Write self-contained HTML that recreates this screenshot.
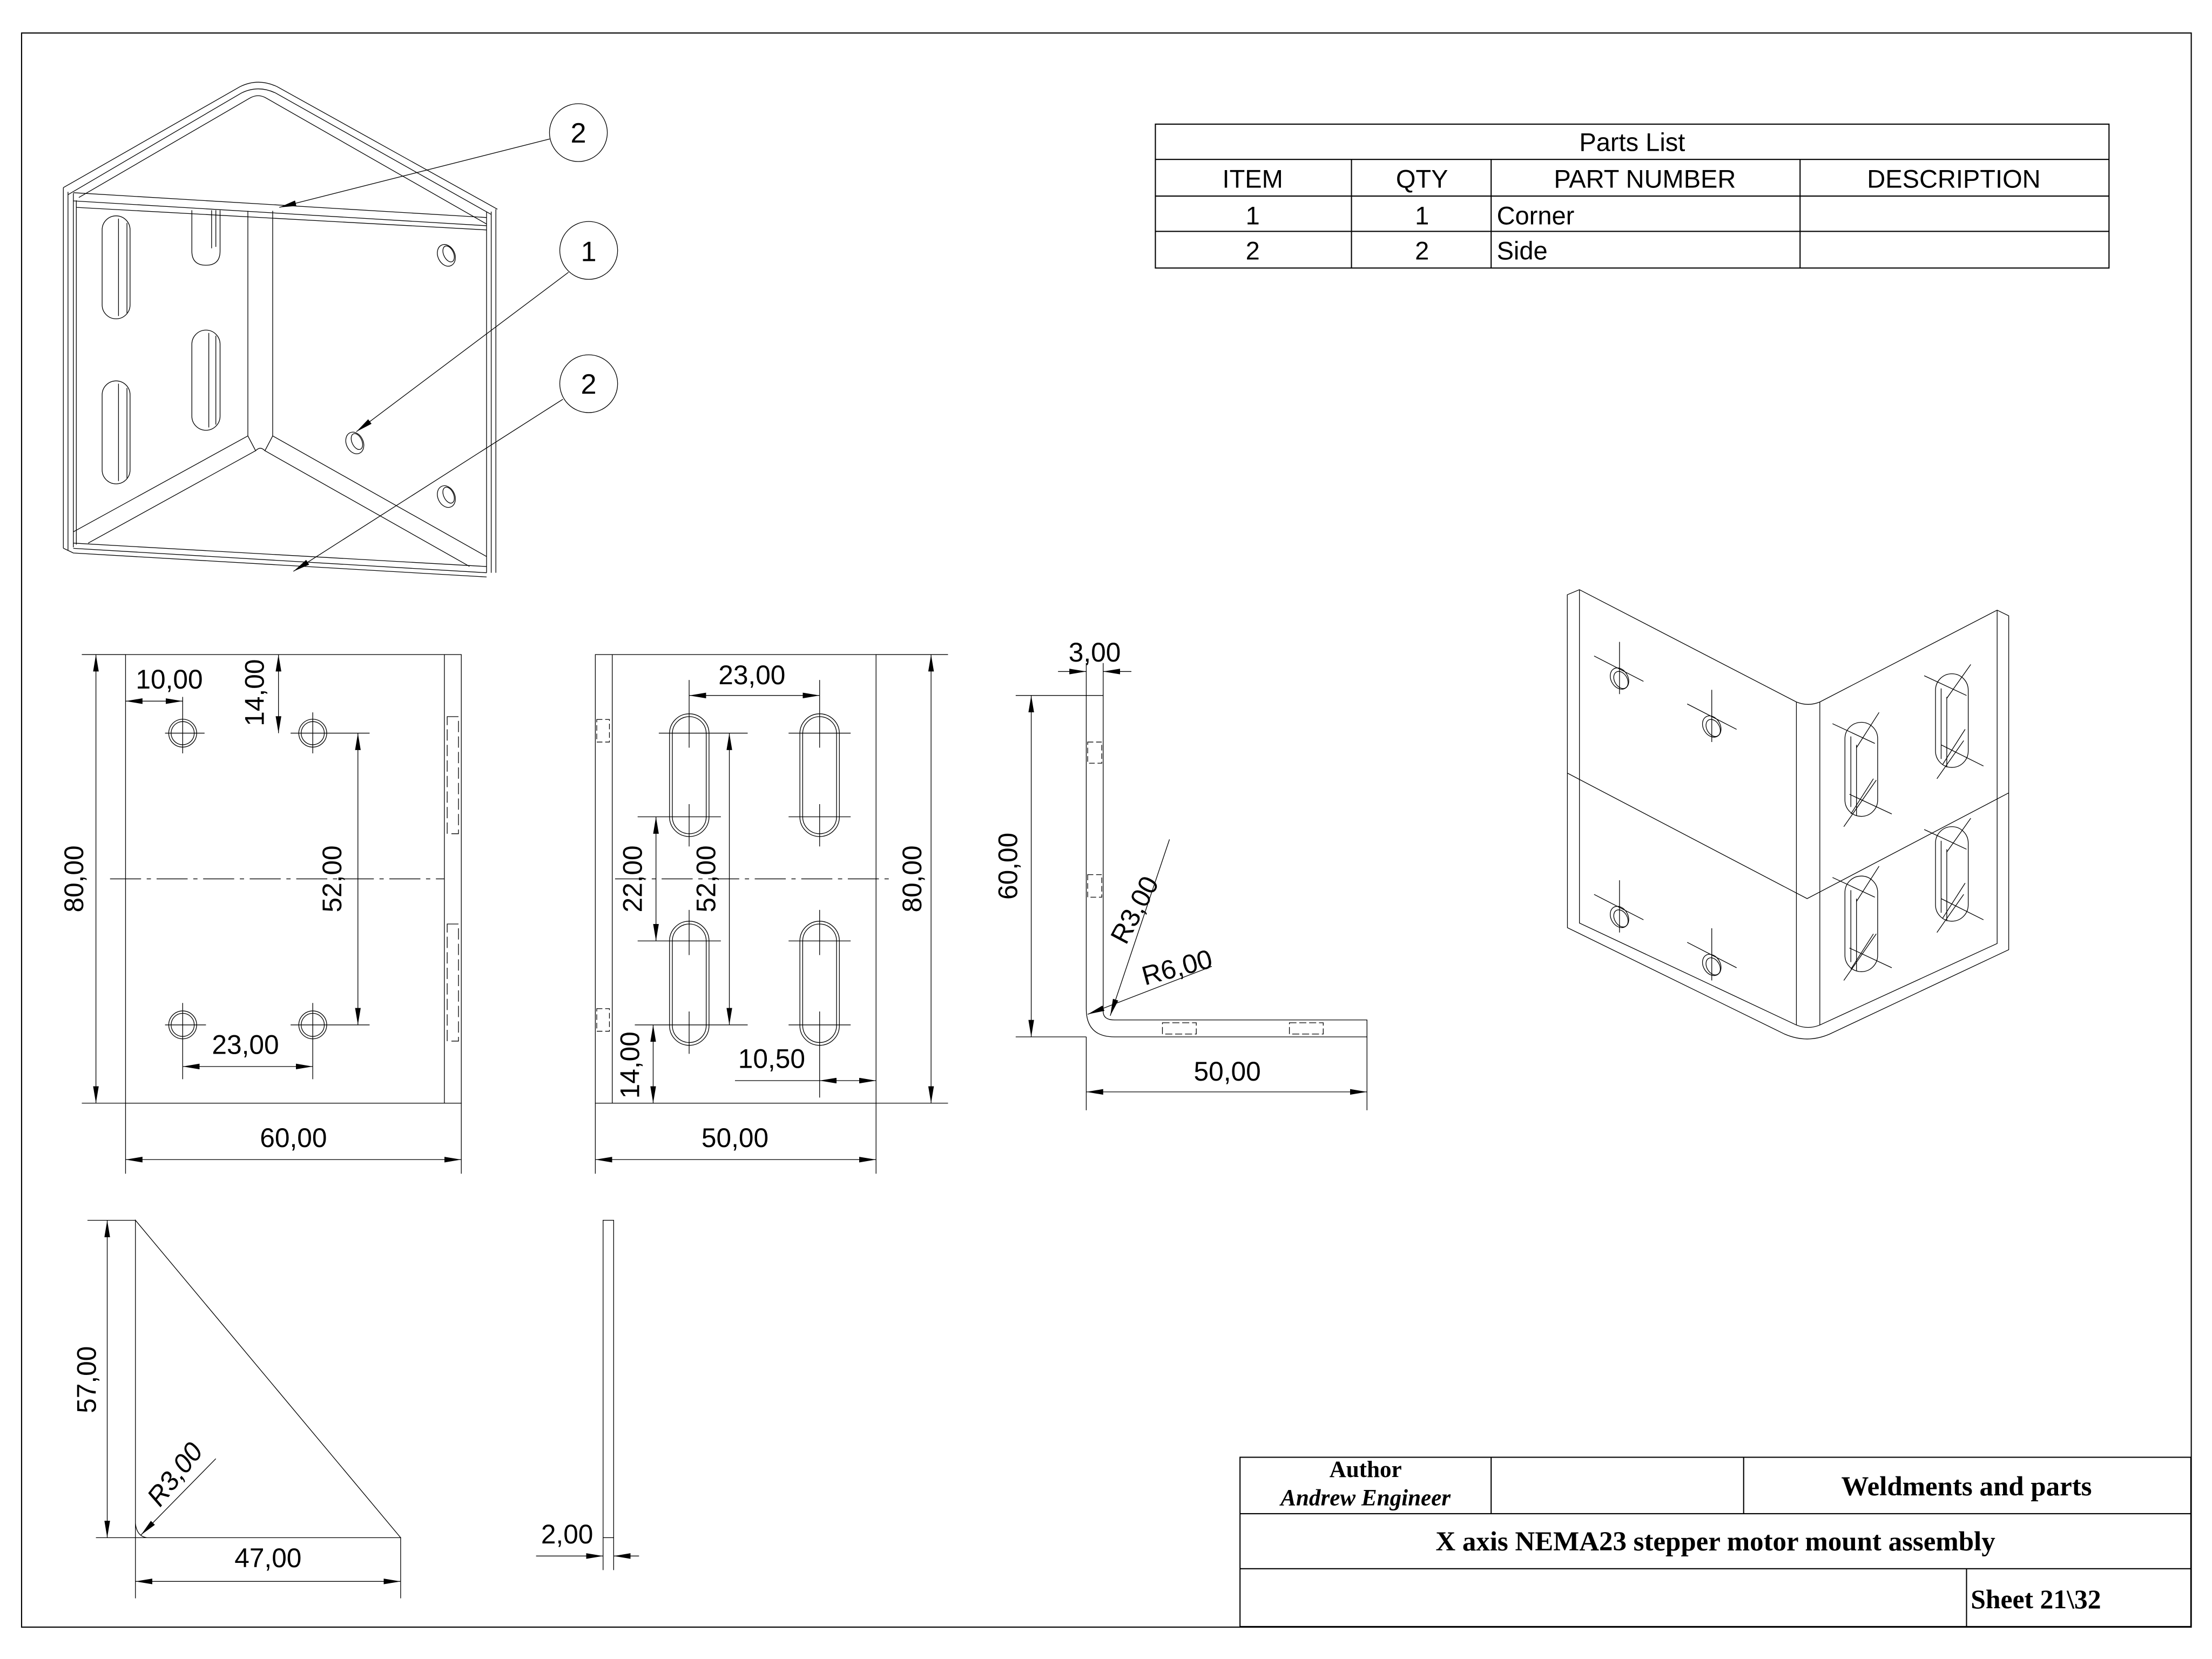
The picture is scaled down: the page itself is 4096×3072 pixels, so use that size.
<!DOCTYPE html>
<html><head><meta charset="utf-8"><style>
html,body{margin:0;padding:0;background:#fff}
svg{display:block}
text{font-family:"Liberation Sans","DejaVu Sans",sans-serif;fill:#000}
.s{font-family:"Liberation Serif",serif;font-weight:bold}
</style></head><body>
<svg width="4096" height="3072" viewBox="0 0 1568 1176" xmlns="http://www.w3.org/2000/svg">
<defs>
<marker id="a" viewBox="0 0 12 4" refX="12" refY="2" markerWidth="12" markerHeight="4" orient="auto-start-reverse" markerUnits="userSpaceOnUse"><path d="M0,0L12,2L0,4z" fill="#000"/></marker>
</defs>
<rect width="1568" height="1176" fill="#fff"/>
<g fill="none" stroke="#000" stroke-width="0.8">
<rect x="15.3" y="23.4" width="1538" height="1130"/>
<rect x="819" y="88" width="676" height="102"/>
<path d="M819,113H1495M819,139H1495M819,164H1495M958,113V190M1057,113V190M1276,113V190"/>
<rect x="879" y="1033" width="674" height="120"/>
<path d="M879,1073H1553M879,1112H1553M1057,1033V1073M1236,1033V1073M1394,1112V1153"/>
</g>
<g font-size="18" text-anchor="middle">
<text x="1157" y="107">Parts List</text>
<text x="888" y="133">ITEM</text><text x="1008" y="133">QTY</text><text x="1166" y="133">PART NUMBER</text><text x="1385" y="133">DESCRIPTION</text>
<text x="888" y="159">1</text><text x="1008" y="159">1</text><text x="1061" y="159" text-anchor="start">Corner</text>
<text x="888" y="184">2</text><text x="1008" y="184">2</text><text x="1061" y="184" text-anchor="start">Side</text>
</g>
<g class="s" text-anchor="middle">
<text class="s" x="968" y="1047" font-size="16.5">Author</text>
<text class="s" x="968" y="1067" font-size="16.5" font-style="italic">Andrew Engineer</text>
<text class="s" x="1394" y="1060" font-size="19.5">Weldments and parts</text>
<text class="s" x="1216" y="1099" font-size="19.5">X axis NEMA23 stepper motor mount assembly</text>
<text class="s" x="1397" y="1140" font-size="19" text-anchor="start">Sheet  21\32</text>
</g>

<!-- ISO top-left -->
<g fill="none" stroke="#000" stroke-width="0.5">
<path d="M44.9,133 L170,61.5 Q183,55 196.6,61.5 L352.6,148.3"/>
<path d="M48.2,138 L171,66 Q183,60 195.5,66 L348.2,152"/>
<path d="M55.9,140 L176.8,69.7 Q183,66 189,69.7 L344.9,158.8"/>
<path d="M44.9,133V388.6M48.2,136V390M52,137V388M54.1,142V386"/>
<path d="M52,136.6L344.9,154.2M52,142.4L344.9,160M54,147L344.9,163"/>
<path d="M344.9,150V406M348.2,150V406M351.5,148.3V406"/>
<path d="M175.7,149.5V309M193.3,149.5V309"/>
<path d="M175.7,309L52,377M181.2,319.5L62.5,385M175.7,309L181.2,319.5Q184.5,316 187.8,319.5L193.3,309M193.3,309L344.9,394.5M187.8,319.5L332.8,401.5"/>
<path d="M52,385L344.9,401.6M52,388.7L344.9,406M44.9,388.6L52,392L344.9,409"/>
<rect x="72.4" y="153" width="19.8" height="73" rx="9.9"/>
<path d="M84,155V224M90,158V222"/>
<rect x="72.4" y="270" width="19.8" height="73" rx="9.9"/>
<path d="M84,272V341M90,275V339"/>
<path d="M136,149V178Q136,188 146,188Q156,188 156,178V149M150,149V176M153,149V175"/>
<rect x="136" y="234" width="20" height="71" rx="10"/>
<path d="M148,236V303M153,238V301"/>
<ellipse cx="316.4" cy="181" rx="6" ry="8" transform="rotate(-25 316.4 181)"/>
<ellipse cx="318" cy="180" rx="3.5" ry="6" transform="rotate(-25 318 180)"/>
<ellipse cx="251.5" cy="314" rx="6" ry="8" transform="rotate(-25 251.5 314)"/>
<ellipse cx="253" cy="313" rx="3.5" ry="6" transform="rotate(-25 253 313)"/>
<ellipse cx="316.4" cy="352" rx="6" ry="8" transform="rotate(-25 316.4 352)"/>
<ellipse cx="318" cy="351" rx="3.5" ry="6" transform="rotate(-25 318 351)"/>
<circle cx="410" cy="94" r="20.5"/>
<circle cx="417.3" cy="177.5" r="20.5"/>
<circle cx="417.3" cy="272" r="20.5"/>
<path d="M389.7,98.5L198,147" marker-end="url(#a)"/>
<path d="M403,193L252.6,306" marker-end="url(#a)"/>
<path d="M399,283L208,405" marker-end="url(#a)"/>
</g>
<g font-size="20" text-anchor="middle">
<text x="410" y="101">2</text><text x="417.3" y="185">1</text><text x="417.3" y="279">2</text>
</g>

<!-- ISO right -->
<g fill="none" stroke="#000" stroke-width="0.5">
<path d="M1111,421.6L1119.6,418L1273.4,497.6Q1281.7,501 1290,497.6L1415.7,432.5L1423.9,436.5V673.2L1297,733Q1281,740 1265,733L1111.1,657.6Z"/>
<path d="M1119.6,418V654.3L1273.4,726.6Q1281.7,730 1290,726.6L1415.7,668.8V432.5"/>
<path d="M1273.4,497.6V726.6M1290,497.6V726.6"/>
<path d="M1111,548L1281,637L1424,562"/>
<g>
<ellipse cx="1148" cy="481" rx="6" ry="8" transform="rotate(-30 1148 481)"/>
<ellipse cx="1149" cy="482" rx="4.5" ry="6.5" transform="rotate(-30 1149 482)"/>
<path d="M1130,465L1165,483M1148,455V492"/>
<ellipse cx="1213.4" cy="515" rx="6" ry="8" transform="rotate(-30 1213.4 515)"/>
<ellipse cx="1214.4" cy="516" rx="4.5" ry="6.5" transform="rotate(-30 1214.4 516)"/>
<path d="M1196,499L1231,517M1213.4,489V526"/>
<ellipse cx="1148" cy="650" rx="6" ry="8" transform="rotate(-30 1148 650)"/>
<ellipse cx="1149" cy="651" rx="4.5" ry="6.5" transform="rotate(-30 1149 651)"/>
<path d="M1130,634L1165,652M1148,624V661"/>
<ellipse cx="1213.4" cy="684" rx="6" ry="8" transform="rotate(-30 1213.4 684)"/>
<ellipse cx="1214.4" cy="685" rx="4.5" ry="6.5" transform="rotate(-30 1214.4 685)"/>
<path d="M1196,668L1231,686M1213.4,658V695"/>
</g>
<g>
<rect x="1307.8" y="512" width="23.2" height="66.7" rx="11.6"/>
<path d="M1312,522V572M1316,528V578M1299,513L1329,527M1312,577L1328,552M1311,563L1341,577M1307,586L1330,553M1316,530L1332,505"/>
<rect x="1372" y="477.6" width="23.2" height="66.4" rx="11.6"/>
<path d="M1376,488V538M1380,494V544M1364,479L1394,493M1377,542L1393,517M1376,528L1406,543M1373,552L1392,525M1380,495L1397,471"/>
<rect x="1307.8" y="621" width="23.2" height="67.8" rx="11.6"/>
<path d="M1312,631V682M1316,637V688M1299,622L1329,636M1312,687L1328,662M1311,672L1341,686M1307,695L1330,662M1316,639L1332,614"/>
<rect x="1372" y="586" width="23.2" height="67" rx="11.6"/>
<path d="M1376,596V647M1380,602V653M1364,588L1394,602M1377,651L1393,626M1376,637L1406,652M1373,661L1392,634M1380,604L1397,580"/>
</g>
</g>

<!-- VIEW 1 -->
<g fill="none" stroke="#000" stroke-width="0.5">
<rect x="89" y="464" width="238" height="318"/>
<path d="M315,464V782"/>
<path d="M317,508H325V591H317ZM317,655H325V738H317Z" stroke-dasharray="8,3"/>
<path d="M78,623H315" stroke-dasharray="22,4,3,4"/>
<circle cx="129.5" cy="519.7" r="9.9"/><circle cx="129.5" cy="519.7" r="8.2"/>
<circle cx="221.7" cy="519.7" r="9.9"/><circle cx="221.7" cy="519.7" r="8.2"/>
<circle cx="129.5" cy="726.5" r="9.9"/><circle cx="129.5" cy="726.5" r="8.2"/>
<circle cx="221.7" cy="726.5" r="9.9"/><circle cx="221.7" cy="726.5" r="8.2"/>
<path d="M117,519.7H145M129.5,494V534M206,519.7H262M221.7,505V534M117,726.5H146M129.5,711V765M206,726.5H262M221.7,711V765"/>
<path d="M58,464H89M58,782H89M89,782V832M327,782V832"/>
<path d="M68,464V782" marker-start="url(#a)" marker-end="url(#a)"/>
<path d="M89,822H327" marker-start="url(#a)" marker-end="url(#a)"/>
<path d="M89,497H129.5" marker-start="url(#a)" marker-end="url(#a)"/>
<path d="M197.4,464V519.7" marker-start="url(#a)" marker-end="url(#a)"/>
<path d="M253.7,519.7V726.5" marker-start="url(#a)" marker-end="url(#a)"/>
<path d="M129.5,756H221.7" marker-start="url(#a)" marker-end="url(#a)"/>
</g>
<g font-size="19" text-anchor="middle">
<text x="208" y="813">60,00</text>
<text x="120" y="488">10,00</text>
<text x="174" y="747">23,00</text>
<text transform="translate(59,623) rotate(-90)">80,00</text>
<text transform="translate(187,491) rotate(-90)">14,00</text>
<text transform="translate(242,623) rotate(-90)">52,00</text>
</g>

<!-- VIEW 2 -->
<g fill="none" stroke="#000" stroke-width="0.5">
<rect x="422" y="464" width="199" height="318"/>
<path d="M434,464V782M621,464H672M621,782H672M422,782V832M621,782V832"/>
<path d="M423,510H432V526H423ZM423,715H432V731H423Z" stroke-dasharray="4,2"/>
<path d="M436,623H632" stroke-dasharray="22,4,3,4"/>
<rect x="474.6" y="506" width="28" height="87" rx="14"/><rect x="476.6" y="508" width="24" height="83" rx="12"/>
<rect x="567" y="506" width="28" height="87" rx="14"/><rect x="569" y="508" width="24" height="83" rx="12"/>
<rect x="474.6" y="653" width="28" height="88" rx="14"/><rect x="476.6" y="655" width="24" height="84" rx="12"/>
<rect x="567" y="653" width="28" height="88" rx="14"/><rect x="569" y="655" width="24" height="84" rx="12"/>
<path d="M488.5,482V530M488.5,570V600M581,482V530M581,570V600M488.5,645V677M488.5,717V747M581,645V677M581,717V778"/>
<path d="M467,519.7H530M452,579H511M452,667H511M450,726.5H530M559,519.7H603M559,579H603M559,667H603M559,726.5H603"/>
<path d="M660,464V782" marker-start="url(#a)" marker-end="url(#a)"/>
<path d="M422,822H621" marker-start="url(#a)" marker-end="url(#a)"/>
<path d="M488.5,493H581" marker-start="url(#a)" marker-end="url(#a)"/>
<path d="M465,579V667" marker-start="url(#a)" marker-end="url(#a)"/>
<path d="M517,519.7V726.5" marker-start="url(#a)" marker-end="url(#a)"/>
<path d="M463,726.5V782" marker-start="url(#a)" marker-end="url(#a)"/>
<path d="M521,766H581"/>
<path d="M581,766H621" marker-start="url(#a)" marker-end="url(#a)"/>
</g>
<g font-size="19" text-anchor="middle">
<text x="521" y="813">50,00</text>
<text x="533" y="485">23,00</text>
<text x="547" y="757">10,50</text>
<text transform="translate(653,623) rotate(-90)">80,00</text>
<text transform="translate(455,623) rotate(-90)">22,00</text>
<text transform="translate(507,623) rotate(-90)">52,00</text>
<text transform="translate(453,755) rotate(-90)">14,00</text>
</g>

<!-- VIEW 3 -->
<g fill="none" stroke="#000" stroke-width="0.5">
<path d="M770,493H782V717Q782,723 790,723H969V735H790Q770,735 770,715Z"/>
<path d="M770,470V493M782,470V493M720,493H770M720,735H770M770,735V787M969,735V787"/>
<path d="M771,526H781V541H771ZM771,620H781V636H771Z" stroke-dasharray="4,2"/>
<path d="M824,725H848V733H824ZM914,725H938V733H914Z" stroke-dasharray="5,2"/>
<path d="M750,476H770" marker-end="url(#a)"/>
<path d="M802,476H782" marker-end="url(#a)"/>
<path d="M731,493V735" marker-start="url(#a)" marker-end="url(#a)"/>
<path d="M770,774H969" marker-start="url(#a)" marker-end="url(#a)"/>
<path d="M829,595L787,720" marker-end="url(#a)"/>
<path d="M859,685L771,719" marker-end="url(#a)"/>
</g>
<g font-size="19" text-anchor="middle">
<text x="776" y="469">3,00</text>
<text x="870" y="766">50,00</text>
<text transform="translate(721,614) rotate(-90)">60,00</text>
<text transform="translate(810,648) rotate(-62)">R3,00</text>
<text transform="translate(836,692) rotate(-15)">R6,00</text>
</g>

<!-- VIEW 4 -->
<g fill="none" stroke="#000" stroke-width="0.5">
<path d="M96,865V1090H284Z"/>
<path d="M62,865H96M68,1090H96M96,1090V1133M284,1090V1133"/>
<path d="M96,1080Q97,1089 104,1090"/>
<path d="M76,865V1090" marker-start="url(#a)" marker-end="url(#a)"/>
<path d="M96,1121H284" marker-start="url(#a)" marker-end="url(#a)"/>
<path d="M153,1034L100,1088" marker-end="url(#a)"/>
</g>
<g font-size="19" text-anchor="middle">
<text x="190" y="1111">47,00</text>
<text transform="translate(68,978) rotate(-90)">57,00</text>
<text font-style="italic" transform="translate(129,1049) rotate(-52)">R3,00</text>
</g>

<!-- VIEW 5 -->
<g fill="none" stroke="#000" stroke-width="0.5">
<rect x="427.5" y="865" width="7.5" height="225"/>
<path d="M427.5,1090V1113M435,1090V1113"/>
<path d="M380,1103H427.5" marker-end="url(#a)"/>
<path d="M453,1103H435" marker-end="url(#a)"/>
</g>
<text x="402" y="1094" font-size="19" text-anchor="middle">2,00</text>
</svg>
</body></html>
